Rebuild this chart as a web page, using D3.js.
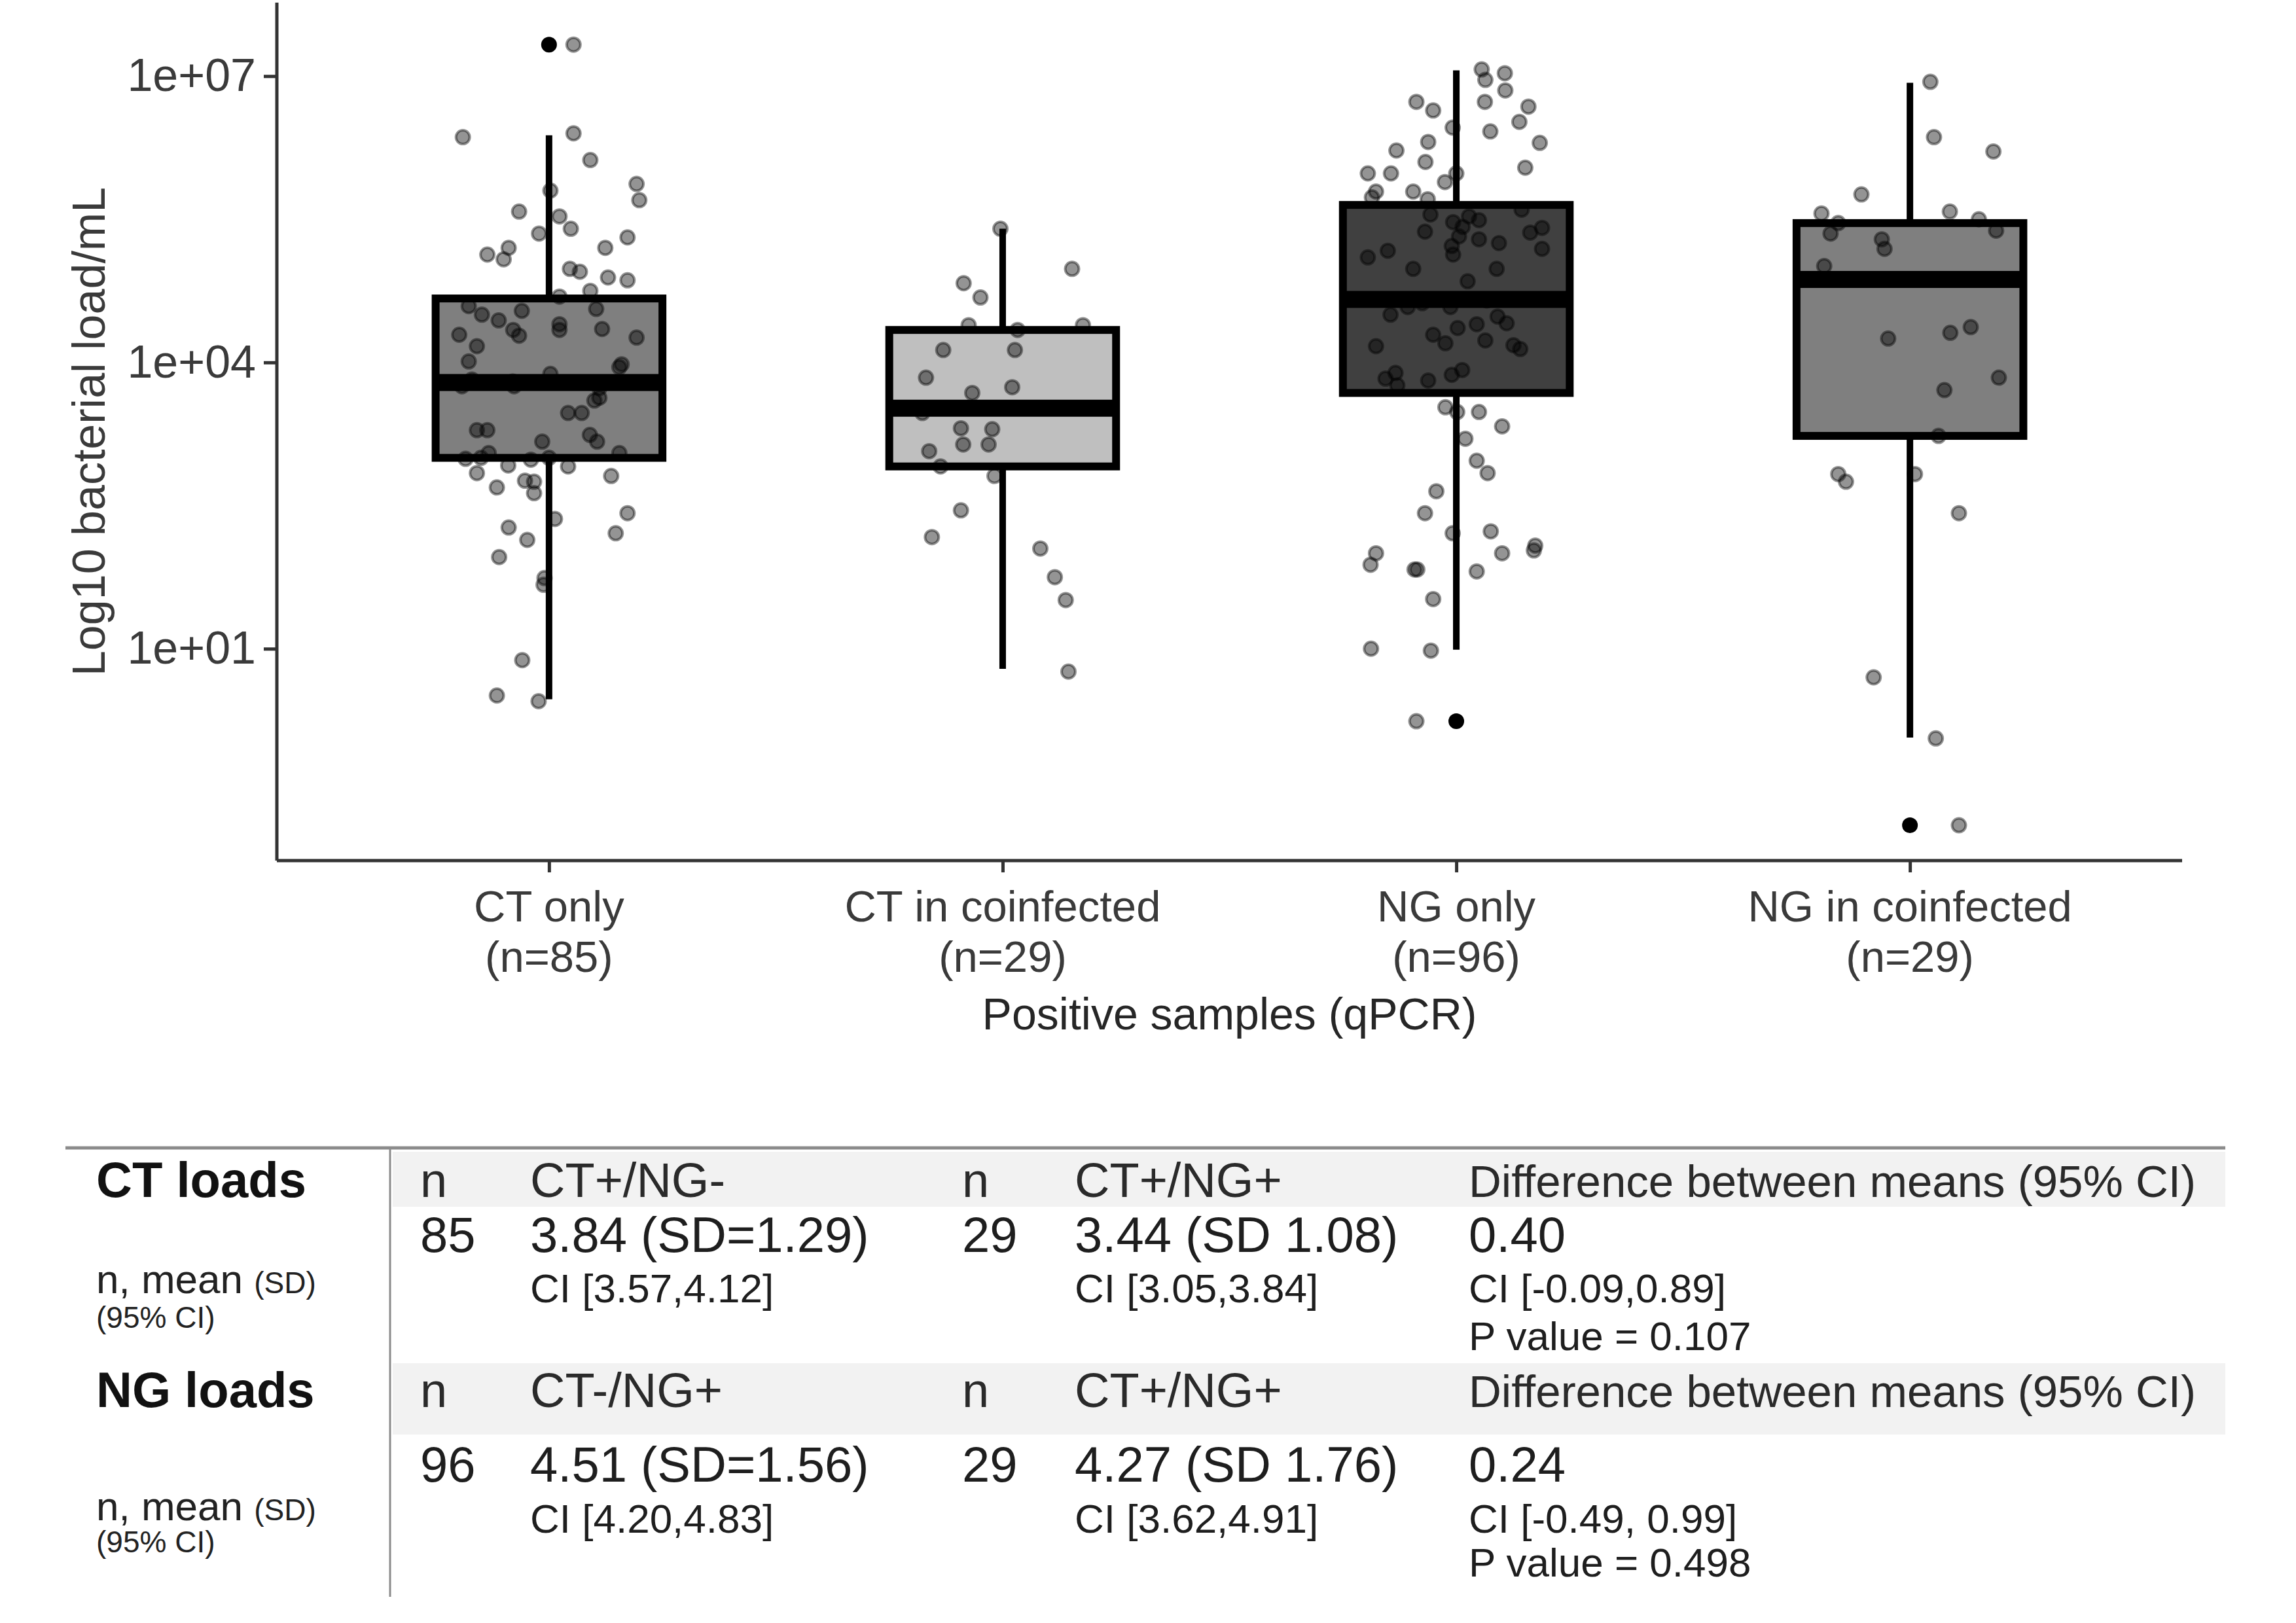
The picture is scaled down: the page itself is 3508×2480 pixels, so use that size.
<!DOCTYPE html>
<html>
<head>
<meta charset="utf-8">
<script src="https://cdn.jsdelivr.net/npm/d3@7"></script>
<style>
  body { margin: 0; background: #fff; }
  svg { display: block; font-family: "Liberation Sans", Arial, sans-serif; }
</style>
</head>
<body>
<svg id="chart" width="3508" height="2480"></svg>
<script>
// ---- data (log10 bacterial load / mL, jitter in category units) ----
var categories = ["CT only", "CT in coinfected", "NG only", "NG in coinfected"];
var catCounts = ["(n=85)", "(n=29)", "(n=96)", "(n=29)"];
var boxFills = ["#7f7f7f", "#bfbfbf", "#404040", "#7f7f7f"];

// [lower whisker, q1, median, q3, upper whisker]
var boxStats = [
    [0.47, 3.00, 3.79, 4.67, 6.38],
    [0.79, 2.91, 3.52, 4.34, 5.40],
    [0.99, 3.68, 4.66, 5.65, 7.06],
    [0.07, 3.23, 4.87, 5.46, 6.93]
];
var outliers = [[7.33], [], [0.24], [-0.85]];

var ctOnlyPts = [
    [0.054,7.33],[-0.19,6.36],[0.054,6.40],[0.091,6.12],[0.193,5.87],[0.199,5.70],[0.003,5.80],
    [-0.066,5.58],[0.023,5.53],[0.048,5.40],[-0.022,5.35],[0.173,5.31],[-0.136,5.13],[-0.089,5.20],
    [-0.10,5.08],[0.124,5.20],[0.046,4.98],[0.068,4.95],[0.13,4.89],[0.173,4.86],[0.091,4.75],
    [0.023,4.69],[-0.177,4.59],[-0.148,4.50],[-0.111,4.44],[-0.06,4.54],[0.104,4.56],[-0.198,4.29],
    [-0.079,4.34],[-0.066,4.28],[0.023,4.40],[0.023,4.34],[0.117,4.35],[0.193,4.26],[-0.159,4.17],
    [-0.177,4.01],[0.155,3.95],[0.003,3.88],[-0.192,3.75],[-0.077,3.75],[0.111,3.63],[0.111,3.73],
    [0.042,3.47],[0.072,3.47],[-0.159,3.29],[-0.136,3.29],[-0.015,3.17],[0.09,3.24],[0.106,3.17],
    [-0.184,2.99],[-0.133,3.05],[0.155,3.05],[-0.09,2.92],[0.042,2.91],[-0.159,2.84],[0.137,2.81],
    [-0.115,2.69],[-0.053,2.76],[-0.033,2.75],[-0.033,2.63],[0.013,2.36],[0.173,2.42],[-0.089,2.27],
    [-0.048,2.14],[0.147,2.21],[-0.11,1.96],[-0.012,1.67],[-0.01,1.74],[-0.059,0.88],[-0.115,0.51],
    [-0.023,0.45],[-0.17,3.82],[-0.08,3.80],[0.10,3.60],[-0.15,3.00],[0.0,3.00],[-0.04,2.98],[0.16,3.98]
];
var ctCoinfPts = [
    [-0.005,5.40],[0.153,4.98],[-0.086,4.83],[-0.049,4.68],[-0.075,4.39],[0.033,4.34],[0.177,4.39],
    [-0.131,4.13],[0.027,4.13],[-0.169,3.84],[0.021,3.74],[-0.067,3.68],[-0.177,3.47],[-0.092,3.31],
    [-0.023,3.30],[-0.087,3.14],[-0.031,3.14],[-0.162,3.07],[-0.137,2.91],[-0.018,2.81],[-0.092,2.45],
    [-0.156,2.17],[0.083,2.05],[0.115,1.75],[0.139,1.51],[0.145,0.76]
];
var ngOnlyPts = [
    [0.056,7.07],[0.107,7.03],[0.064,6.96],[0.108,6.85],[-0.088,6.73],[-0.051,6.64],[0.063,6.73],
    [0.159,6.68],[0.139,6.52],[-0.008,6.46],[0.075,6.42],[-0.062,6.31],[0.184,6.30],[-0.132,6.22],
    [-0.068,6.10],[0.152,6.04],[-0.195,5.98],[-0.144,5.98],[0.0,5.98],[-0.025,5.89],[-0.177,5.79],
    [-0.095,5.79],[-0.186,5.73],[-0.063,5.71],[-0.057,5.55],[0.144,5.60],[-0.007,5.47],[0.028,5.53],
    [0.05,5.49],[0.014,5.42],[0.163,5.36],[0.189,5.41],[-0.069,5.37],[-0.01,5.22],[0.006,5.32],
    [0.05,5.29],[0.094,5.25],[0.189,5.19],[-0.195,5.10],[-0.151,5.17],[-0.007,5.13],[-0.095,4.98],
    [0.089,4.98],[0.025,4.85],[-0.145,4.50],[-0.107,4.58],[-0.075,4.62],[-0.013,4.58],[0.067,4.65],
    [0.091,4.48],[0.111,4.41],[0.045,4.40],[0.003,4.36],[-0.051,4.29],[-0.024,4.20],[0.064,4.23],
    [-0.177,4.17],[0.126,4.18],[0.141,4.14],[-0.156,3.83],[-0.134,3.89],[-0.13,3.76],[-0.062,3.81],
    [-0.01,3.87],[0.013,3.92],[-0.024,3.53],[0.002,3.48],[0.05,3.48],[0.101,3.33],[0.02,3.20],
    [0.045,2.97],[0.069,2.84],[-0.044,2.65],[-0.069,2.42],[-0.008,2.21],[0.076,2.23],[-0.177,2.00],
    [-0.189,1.88],[-0.092,1.83],[-0.086,1.83],[0.045,1.81],[0.101,2.00],[0.174,2.08],[0.171,2.03],
    [-0.051,1.52],[-0.188,1.00],[-0.056,0.98],[-0.088,0.24]
];
var ngCoinfPts = [
    [0.045,6.94],[0.053,6.36],[0.184,6.21],[-0.107,5.76],[-0.195,5.56],[-0.158,5.46],[0.088,5.58],
    [0.152,5.50],[-0.175,5.35],[-0.062,5.29],[-0.056,5.19],[0.19,5.38],[-0.189,5.01],[-0.048,4.25],
    [0.089,4.31],[0.134,4.37],[0.196,3.84],[0.076,3.71],[0.063,3.23],[-0.158,2.83],[-0.141,2.75],
    [0.011,2.83],[0.108,2.42],[-0.08,0.70],[0.057,0.06],[0.108,-0.85]
];
var groupPts = [ctOnlyPts, ctCoinfPts, ngOnlyPts, ngCoinfPts];

var yTickValues = [1e1, 1e4, 1e7];
var yTickLabels = ["1e+01", "1e+04", "1e+07"];

// table
var tableSections = ["CT loads", "NG loads"];
var groupA = ["CT+/NG-", "CT-/NG+"];
var groupB = ["CT+/NG+", "CT+/NG+"];
var nA = ["85", "96"];
var nB = ["29", "29"];
var meanA = ["3.84 (SD=1.29)", "4.51 (SD=1.56)"];
var ciA = ["CI [3.57,4.12]", "CI [4.20,4.83]"];
var meanB = ["3.44 (SD 1.08)", "4.27 (SD 1.76)"];
var ciB = ["CI [3.05,3.84]", "CI [3.62,4.91]"];
var diffMean = ["0.40", "0.24"];
var diffCi = ["CI [-0.09,0.89]", "CI [-0.49, 0.99]"];
var pValues = ["P value = 0.107", "P value = 0.498"];
var diffHeader = "Difference between means (95% CI)";

// ---- layout ----
var svg = d3.select("#chart");
var plot = {left: 423, right: 3334, top: 4, bottom: 1315};

var x = d3.scaleLinear().domain([-0.6, 3.6]).range([plot.left, plot.right]);
var y = d3.scaleLog().domain([Math.pow(10, -1.22), Math.pow(10, 7.77)]).range([plot.bottom, plot.top]);
var ly = function(v) { return y(Math.pow(10, v)); };

// boxes
var boxes = svg.append("g");
boxStats.forEach(function(s, i) {
    var g = boxes.append("g");
    g.append("line")
        .attr("x1", x(i)).attr("x2", x(i))
        .attr("y1", ly(s[4])).attr("y2", ly(s[0]))
        .attr("stroke", "#000").attr("stroke-width", 10);
    g.append("rect")
        .attr("x", x(i - 0.25)).attr("width", x(i + 0.25) - x(i - 0.25))
        .attr("y", ly(s[3])).attr("height", ly(s[1]) - ly(s[3]))
        .attr("fill", boxFills[i]).attr("stroke", "#000").attr("stroke-width", 12);
    g.append("line")
        .attr("x1", x(i - 0.25)).attr("x2", x(i + 0.25))
        .attr("y1", ly(s[2])).attr("y2", ly(s[2]))
        .attr("stroke", "#000").attr("stroke-width", 26);
    g.selectAll(".outlier").data(outliers[i]).enter().append("circle")
        .attr("class", "outlier")
        .attr("cx", x(i)).attr("cy", function(d) { return ly(d); })
        .attr("r", 12).attr("fill", "#000");
});

// jittered points
groupPts.forEach(function(pts, i) {
    svg.append("g").selectAll("circle").data(pts).enter().append("circle")
        .attr("cx", function(d) { return x(i + d[0]); })
        .attr("cy", function(d) { return ly(d[1]); })
        .attr("r", 10.5)
        .attr("fill", "rgba(0,0,0,0.42)")
        .attr("stroke", "rgba(0,0,0,0.42)")
        .attr("stroke-width", 4);
});

// axes
var yAxis = svg.append("g")
    .attr("transform", "translate(" + plot.left + ",0)")
    .call(d3.axisLeft(y).tickValues(yTickValues)
        .tickFormat(function(d, i) { return yTickLabels[i]; })
        .tickSize(20).tickPadding(12));
yAxis.select(".domain").attr("d", "M0," + plot.top + "V" + plot.bottom);

var xAxis = svg.append("g")
    .attr("transform", "translate(0," + plot.bottom + ")")
    .call(d3.axisBottom(x).tickValues([0, 1, 2, 3]).tickFormat("").tickSize(18));
xAxis.select(".domain").attr("d", "M" + plot.left + ",0H" + plot.right);

svg.selectAll(".domain").attr("stroke", "#333").attr("stroke-width", 5);
svg.selectAll(".tick line").attr("stroke", "#333").attr("stroke-width", 5);
yAxis.selectAll(".tick text")
    .attr("font-size", 70).attr("fill", "#3a3a3a")
    .attr("font-family", "Liberation Sans, Arial, sans-serif");

var xLabels = svg.append("g").attr("font-size", 67).attr("fill", "#3a3a3a").attr("text-anchor", "middle");
categories.forEach(function(c, i) {
    xLabels.append("text").attr("x", x(i)).attr("y", 1408).text(c);
    xLabels.append("text").attr("x", x(i)).attr("y", 1485).text(catCounts[i]);
});

svg.append("text")
    .attr("x", (plot.left + plot.right) / 2).attr("y", 1573)
    .attr("text-anchor", "middle").attr("font-size", 68).attr("fill", "#262626")
    .text("Positive samples (qPCR)");

svg.append("text")
    .attr("transform", "translate(160," + ((plot.top + plot.bottom) / 2) + ") rotate(-90)")
    .attr("text-anchor", "middle").attr("font-size", 70).attr("fill", "#3a3a3a")
    .text("Log10 bacterial load/mL");

// ---- table ----
var table = svg.append("g").attr("fill", "#1e1e1e");
var cols = {label: 147, n: 642, a: 810, n2: 1470, b: 1642, diff: 2244};
var secLayout = [
    {bandTop: 1760, bandBottom: 1844, head: 1829, val: 1913, ci: 1990, p: 2063, side1: 1976, side2: 2029},
    {bandTop: 2083, bandBottom: 2192, head: 2150, val: 2264, ci: 2342, p: 2409, side1: 2323, side2: 2372}
];

secLayout.forEach(function(L, i) {
    table.append("rect")
        .attr("x", 600).attr("y", L.bandTop)
        .attr("width", 3400 - 600).attr("height", L.bandBottom - L.bandTop)
        .attr("fill", "#f2f2f2");
});

table.append("line")
    .attr("x1", 100).attr("x2", 3400).attr("y1", 1754).attr("y2", 1754)
    .attr("stroke", "#8c8c8c").attr("stroke-width", 5);
table.append("line")
    .attr("x1", 596).attr("x2", 596).attr("y1", 1754).attr("y2", 2440)
    .attr("stroke", "#8c8c8c").attr("stroke-width", 3);

function cell(xp, yp, txt, size, weight, fill) {
    table.append("text")
        .attr("x", xp).attr("y", yp)
        .attr("font-size", size)
        .attr("font-weight", weight || "normal")
        .attr("fill", fill || "#1e1e1e")
        .text(txt);
}

tableSections.forEach(function(name, i) {
    var L = secLayout[i];
    cell(cols.label, L.head, name, 76, "bold", "#111");
    var side = table.append("text").attr("x", cols.label).attr("y", L.side1).attr("fill", "#222");
    side.append("tspan").attr("font-size", 62).text("n, mean ");
    side.append("tspan").attr("font-size", 46).text("(SD)");
    cell(cols.label, L.side2, "(95% CI)", 46, "normal", "#222");

    cell(cols.n, L.head, "n", 74, "normal", "#2a2a2a");
    cell(cols.a, L.head, groupA[i], 74, "normal", "#2a2a2a");
    cell(cols.n2, L.head, "n", 74, "normal", "#2a2a2a");
    cell(cols.b, L.head, groupB[i], 74, "normal", "#2a2a2a");
    cell(cols.diff, L.head, diffHeader, 69, "normal", "#2a2a2a");

    cell(cols.n, L.val, nA[i], 76);
    cell(cols.a, L.val, meanA[i], 76);
    cell(cols.n2, L.val, nB[i], 76);
    cell(cols.b, L.val, meanB[i], 76);
    cell(cols.diff, L.val, diffMean[i], 76);

    cell(cols.a, L.ci, ciA[i], 62);
    cell(cols.b, L.ci, ciB[i], 62);
    cell(cols.diff, L.ci, diffCi[i], 62);
    cell(cols.diff, L.p, pValues[i], 62);
});
</script>
</body>
</html>
